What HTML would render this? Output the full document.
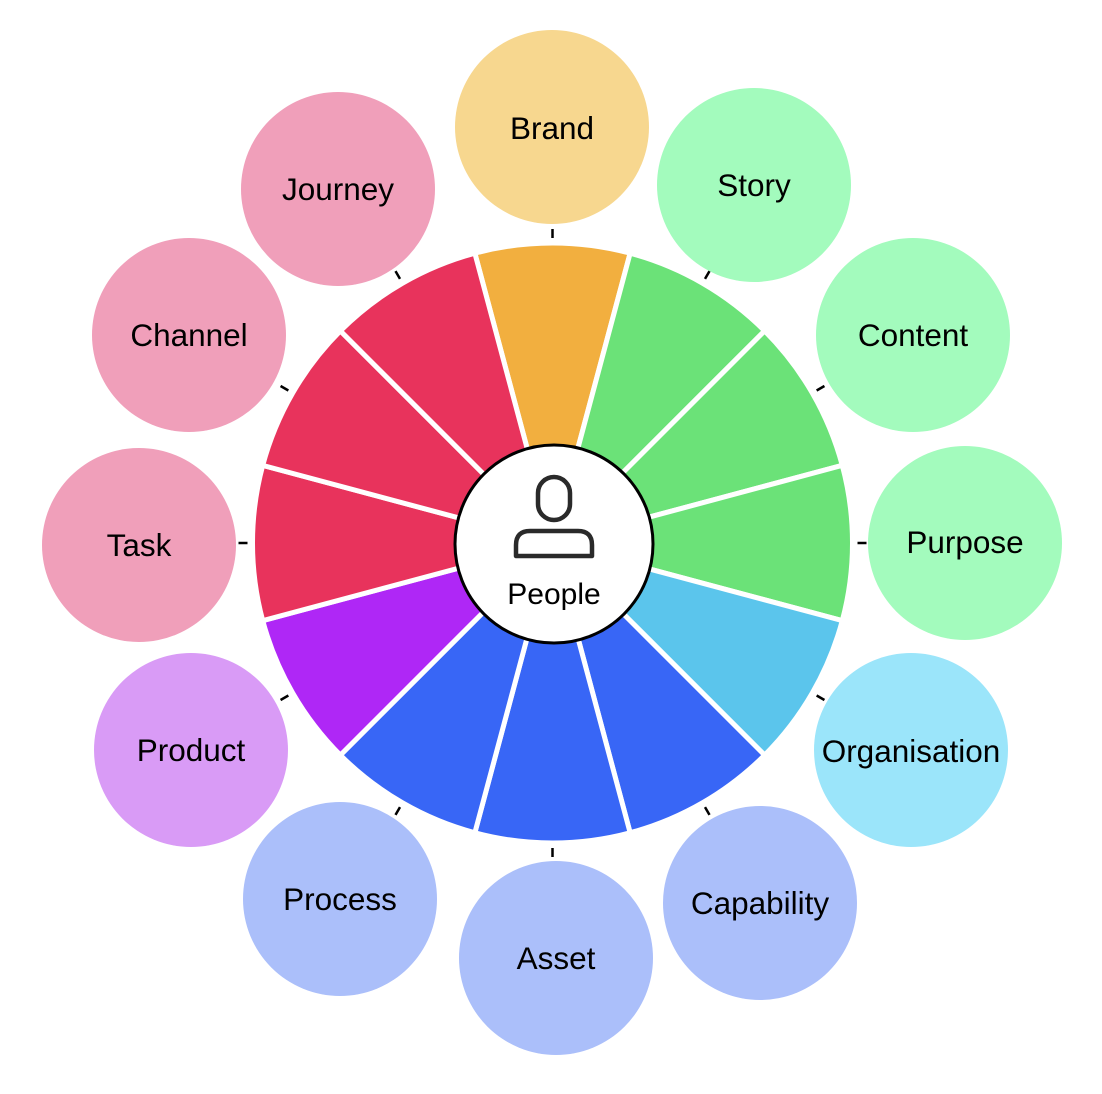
<!DOCTYPE html>
<html><head><meta charset="utf-8"><style>
html,body{margin:0;padding:0;background:#fff;}
svg{display:block;}
text{font-family:"Liberation Sans",sans-serif;font-size:31.5px;fill:#000;text-anchor:middle;}
</style></head><body>
<svg width="1102" height="1094" viewBox="0 0 1102 1094" xmlns="http://www.w3.org/2000/svg">
<g stroke="#fff" stroke-width="5" stroke-linejoin="miter">
<path d="M552.5,543 L474.85,253.22 A300 300 0 0 1 630.15,253.22 Z" fill="#F2AF3F" transform="rotate(0 552.5 543)"/>
<path d="M552.5,543 L474.85,253.22 A300 300 0 0 1 630.15,253.22 Z" fill="#6BE278" transform="rotate(30 552.5 543)"/>
<path d="M552.5,543 L474.85,253.22 A300 300 0 0 1 630.15,253.22 Z" fill="#6BE278" transform="rotate(60 552.5 543)"/>
<path d="M552.5,543 L474.85,253.22 A300 300 0 0 1 630.15,253.22 Z" fill="#6BE278" transform="rotate(90 552.5 543)"/>
<path d="M552.5,543 L474.85,253.22 A300 300 0 0 1 630.15,253.22 Z" fill="#5BC5EC" transform="rotate(120 552.5 543)"/>
<path d="M552.5,543 L474.85,253.22 A300 300 0 0 1 630.15,253.22 Z" fill="#3866F6" transform="rotate(150 552.5 543)"/>
<path d="M552.5,543 L474.85,253.22 A300 300 0 0 1 630.15,253.22 Z" fill="#3866F6" transform="rotate(180 552.5 543)"/>
<path d="M552.5,543 L474.85,253.22 A300 300 0 0 1 630.15,253.22 Z" fill="#3866F6" transform="rotate(210 552.5 543)"/>
<path d="M552.5,543 L474.85,253.22 A300 300 0 0 1 630.15,253.22 Z" fill="#AF27F6" transform="rotate(240 552.5 543)"/>
<path d="M552.5,543 L474.85,253.22 A300 300 0 0 1 630.15,253.22 Z" fill="#E8335C" transform="rotate(270 552.5 543)"/>
<path d="M552.5,543 L474.85,253.22 A300 300 0 0 1 630.15,253.22 Z" fill="#E8335C" transform="rotate(300 552.5 543)"/>
<path d="M552.5,543 L474.85,253.22 A300 300 0 0 1 630.15,253.22 Z" fill="#E8335C" transform="rotate(330 552.5 543)"/>
</g>
<g stroke="#000" stroke-width="2.5">
<line x1="552.5" y1="238" x2="552.5" y2="229" transform="rotate(0 552.5 543)"/>
<line x1="552.5" y1="238" x2="552.5" y2="229" transform="rotate(30 552.5 543)"/>
<line x1="552.5" y1="238" x2="552.5" y2="229" transform="rotate(60 552.5 543)"/>
<line x1="552.5" y1="238" x2="552.5" y2="229" transform="rotate(90 552.5 543)"/>
<line x1="552.5" y1="238" x2="552.5" y2="229" transform="rotate(120 552.5 543)"/>
<line x1="552.5" y1="238" x2="552.5" y2="229" transform="rotate(150 552.5 543)"/>
<line x1="552.5" y1="238" x2="552.5" y2="229" transform="rotate(180 552.5 543)"/>
<line x1="552.5" y1="238" x2="552.5" y2="229" transform="rotate(210 552.5 543)"/>
<line x1="552.5" y1="238" x2="552.5" y2="229" transform="rotate(240 552.5 543)"/>
<line x1="552.5" y1="238" x2="552.5" y2="229" transform="rotate(270 552.5 543)"/>
<line x1="552.5" y1="238" x2="552.5" y2="229" transform="rotate(300 552.5 543)"/>
<line x1="552.5" y1="238" x2="552.5" y2="229" transform="rotate(330 552.5 543)"/>
</g>
<circle cx="552" cy="127" r="97" fill="#F7D78F"/>
<circle cx="754" cy="185" r="97" fill="#A3FBBD"/>
<circle cx="913" cy="335" r="97" fill="#A3FBBD"/>
<circle cx="965" cy="543" r="97" fill="#A3FBBD"/>
<circle cx="911" cy="750" r="97" fill="#9BE5FA"/>
<circle cx="760" cy="903" r="97" fill="#ABBFFA"/>
<circle cx="556" cy="958" r="97" fill="#ABBFFA"/>
<circle cx="340" cy="899" r="97" fill="#ABBFFA"/>
<circle cx="191" cy="750" r="97" fill="#D99BF6"/>
<circle cx="139" cy="545" r="97" fill="#F09FBA"/>
<circle cx="189" cy="335" r="97" fill="#F09FBA"/>
<circle cx="338" cy="189" r="97" fill="#F09FBA"/>
<text x="552" y="139">Brand</text>
<text x="754" y="196">Story</text>
<text x="913" y="346">Content</text>
<text x="965" y="553">Purpose</text>
<text x="911" y="762">Organisation</text>
<text x="760" y="914">Capability</text>
<text x="556" y="969">Asset</text>
<text x="340" y="910">Process</text>
<text x="191" y="761">Product</text>
<text x="139" y="556">Task</text>
<text x="189" y="346">Channel</text>
<text x="338" y="200">Journey</text>
<circle cx="554" cy="544" r="99" fill="#fff" stroke="#000" stroke-width="3"/>
<rect x="538" y="477" width="32" height="43" rx="16" fill="none" stroke="#2a2a2a" stroke-width="4.5"/>
<path d="M516,556 L516,545 Q516,531 530,531 L578,531 Q592,531 592,545 L592,556 Z" fill="none" stroke="#2a2a2a" stroke-width="4.5" stroke-linejoin="round"/>
<text x="554" y="604" style="font-size:30px">People</text>
</svg>
</body></html>
